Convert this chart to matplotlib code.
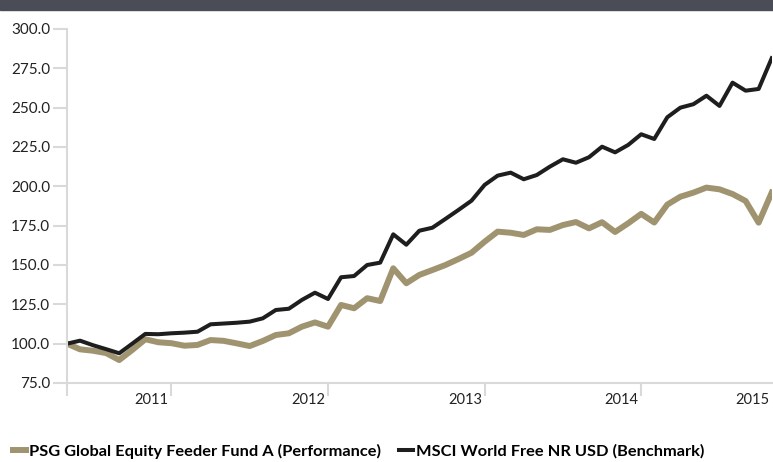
import matplotlib.pyplot as plt
import numpy as np
from matplotlib.patches import Rectangle

# monthly index values, starting at 100 (May 2010)
fund = [100.0, 96.4, 95.5, 94.0, 89.6, 96.0, 102.8, 100.9, 100.3, 98.7,
        99.2, 102.3, 101.8, 100.2, 98.5, 101.7, 105.5, 106.6, 110.8, 113.5,
        110.8, 124.6, 122.5, 128.9, 127.1, 147.9, 138.4, 143.7, 146.8, 150.0,
        153.8, 157.8, 164.8, 171.2, 170.5, 169.1, 172.7, 172.3, 175.4, 177.3,
        173.3, 177.2, 171.0, 176.5, 182.5, 177.0, 188.4, 193.4, 196.0, 199.2,
        198.1, 195.1, 190.7, 176.9, 196.0]
bench = [100.0, 101.9, 99.0, 96.5, 93.9, 100.0, 106.2, 106.0, 106.6, 107.0,
         107.6, 112.3, 112.8, 113.3, 114.0, 116.1, 121.4, 122.2, 127.8, 132.4,
         128.4, 142.2, 143.0, 150.0, 151.5, 169.5, 162.9, 171.8, 173.7, 179.3,
         185.0, 190.9, 200.9, 206.8, 208.7, 204.5, 207.2, 212.5, 217.2, 215.0,
         218.5, 225.2, 221.6, 226.3, 233.1, 230.1, 243.9, 250.0, 252.2, 257.6,
         251.1, 265.9, 260.8, 261.9, 281.4]
years = ['2011', '2012', '2013', '2014', '2015']
first_month = 5  # May 2010

gold = '#a09470'
dark = '#1e1e1e'
grey = '#d9d9d9'

plt.rcParams['font.family'] = ['Lato', 'DejaVu Sans']

fig = plt.figure(figsize=(7.73, 4.62), dpi=100)
fig.patches.append(Rectangle((0, 1 - 10 / 462), 1, 10 / 462, transform=fig.transFigure,
                             color='#4a4d55', zorder=0))

ax = fig.add_axes([67 / 773, 1 - 383 / 462, (771.7 - 67) / 773, (383 - 29) / 462])
x = np.arange(len(fund))
ax.plot(x, fund, color=gold, lw=4.3, label='PSG Global Equity Feeder Fund A (Performance)')
ax.plot(x, bench, color=dark, lw=2.9, label='MSCI World Free NR USD (Benchmark)')

ax.set_xlim(0, len(fund) - 1)
ax.set_ylim(75, 300)
ax.set_yticks(np.arange(75, 301, 25))
ax.set_yticklabels(['%.1f' % v for v in np.arange(75, 301, 25)])

# year boundaries as tick marks, year names just left of them
bounds = [13 - first_month + 12 * k for k in range(len(years) - 1)]
ax.set_xticks([0] + bounds)
ax.set_xticklabels([])
ax.set_xticks([b - 1.5 for b in bounds] + [len(fund) - 2.5], minor=True)
ax.set_xticklabels(years, minor=True)

for s in ['top', 'right']:
    ax.spines[s].set_visible(False)
for s in ['left', 'bottom']:
    ax.spines[s].set_color(grey)
    ax.spines[s].set_linewidth(1.5)
ax.tick_params(axis='y', length=10, width=1.5, color=grey, pad=2, labelsize=11, labelcolor='#222222')
ax.tick_params(axis='x', which='major', length=9.5, width=1.5, color=grey)
ax.tick_params(axis='x', which='minor', length=0, pad=7, labelsize=10.5, labelcolor='#222222')

fig.legend(loc='center left', bbox_to_anchor=(13 / 773, 1 - 451 / 462), ncol=2, frameon=False,
           handlelength=0.8, handletextpad=0.2, columnspacing=1.1, borderpad=0, borderaxespad=0,
           prop={'weight': 'bold', 'size': 11.8})

plt.savefig('out.png')
